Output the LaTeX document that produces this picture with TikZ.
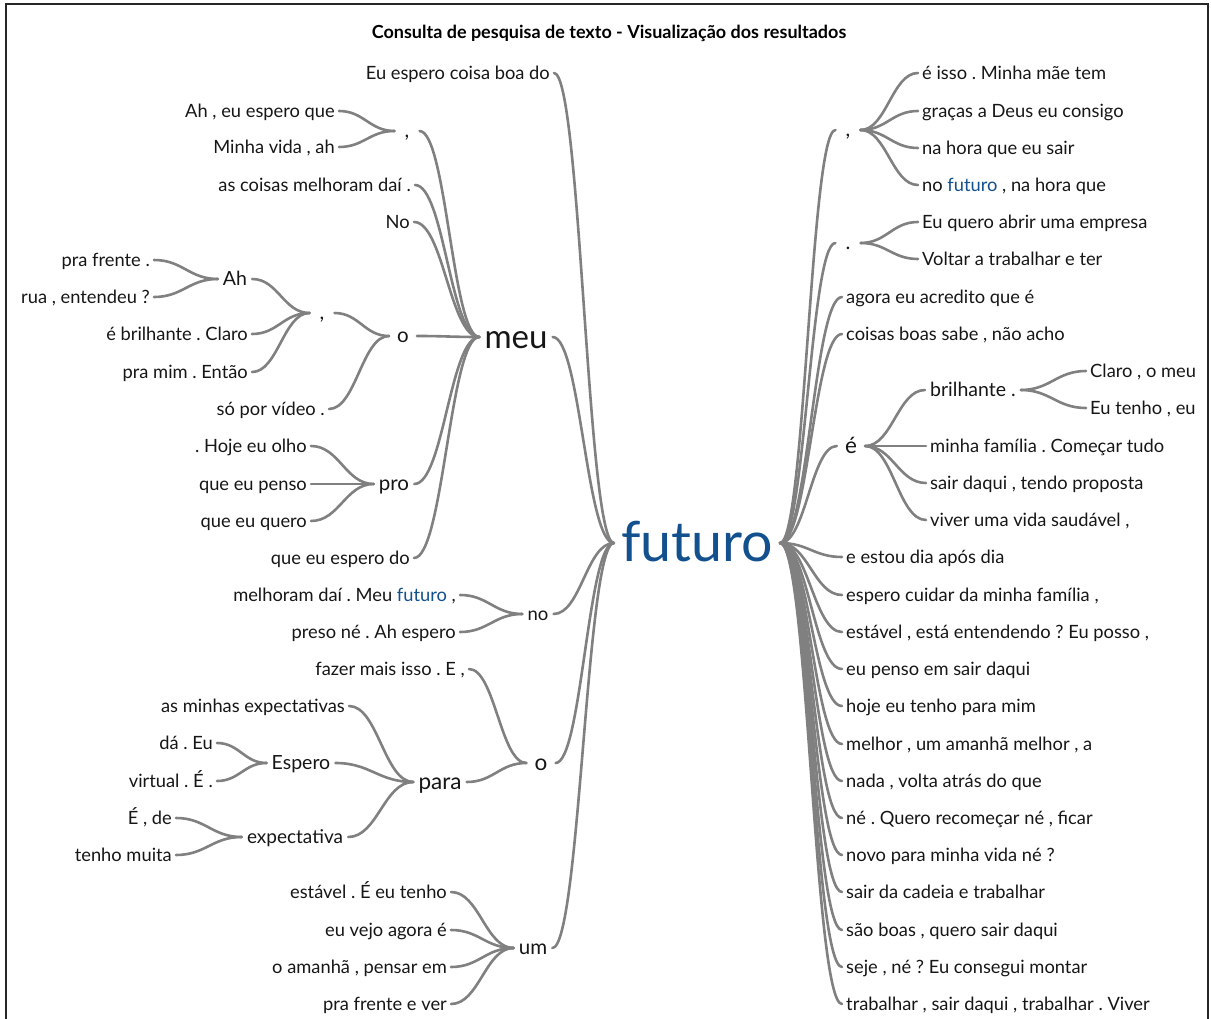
\documentclass[tikz,border=0pt]{standalone}
\usepackage{fontspec}
\setmainfont{Lato}
\usetikzlibrary{calc}
\definecolor{linkgray}{RGB}{128,128,128}
\definecolor{txt}{RGB}{22,22,22}
\definecolor{keyblue}{RGB}{18,80,142}
\frenchspacing
\begin{document}
\begin{tikzpicture}[x=1pt,y=-1pt,
  lf/.style={font=\fontsize{18.3}{21}\selectfont, text=txt, inner xsep=4pt, inner ysep=0pt,
             text height=13pt, text depth=0pt},
  hub/.style={/utils/exec={\pgfmathsetmacro\hubht{0.68*#1}},
             font=\fontsize{#1}{#1}\selectfont, text=txt, inner xsep=5pt, inner ysep=0pt,
             text height=\hubht pt, text depth=0pt},
  conn/.style={draw=linkgray, line width=2.6pt, line cap=round},
  sig/.style={to path={let \p1=(\tikztostart), \p2=(\tikztotarget), \n1={0.45*(\x2-\x1)} in
      .. controls +(\n1,0pt) and +(-\n1,0pt) .. (\tikztotarget) \tikztonodes}}
]
\useasboundingbox (0,0) rectangle (1211,1019);
% page frame
\draw[line width=2pt, black!85] (5.5,1019) -- (5.5,4.5) -- (1208,4.5) -- (1208,1019);

\node[font=\bfseries\fontsize{18}{21}\selectfont, text=black] (title) at (609,33)
  {Consulta de pesquisa de texto - Visualização dos resultados};

% keyword
\node[hub=55.5, text=keyblue, inner xsep=7pt] (fut) at (697,543) {futuro};

% ---------- left branch ----------
\node[lf, anchor=east] (l1) at (554,73) {Eu espero coisa boa do};
\node[lf, anchor=east] (l2) at (339,111) {Ah , eu espero que};
\node[lf, anchor=east] (l3) at (339,147) {Minha vida , ah};
\node[hub=20.5, inner xsep=10pt] (c1) at (407,131) {,};
\node[lf, anchor=east] (l4) at (415,185) {as coisas melhoram daí .};
\node[lf, anchor=east] (l5) at (414,222) {No};
\node[lf, anchor=east] (l6) at (154,260) {pra frente .};
\node[lf, anchor=east] (l7) at (154,297) {rua , entendeu ?};
\node[hub=19.5] (ah) at (235,279) {Ah};
\node[lf, anchor=east] (l8) at (252,334) {é brilhante . Claro};
\node[lf, anchor=east] (l9) at (252,372) {pra mim . Então};
\node[hub=20.5, inner xsep=10pt] (c2) at (322,313) {,};
\node[lf, anchor=east] (l10) at (329,409) {só por vídeo .};
\node[hub=20.5, inner xsep=8pt] (o1) at (403,336) {o};
\node[lf, anchor=east] (l11) at (311,446) {. Hoje eu olho};
\node[lf, anchor=east] (l12) at (311,484) {que eu penso};
\node[lf, anchor=east] (l13) at (311,521) {que eu quero};
\node[hub=20.5] (pro) at (394,484) {pro};
\node[hub=33] (meu) at (516,337) {meu};
\node[lf, anchor=east] (l14) at (414,558) {que eu espero do};
\node[lf, anchor=east] (l15) at (460,595) {melhoram daí . Meu \textcolor{keyblue}{futuro} ,};
\node[lf, anchor=east] (l16) at (460,632) {preso né . Ah espero};
\node[hub=18.5] (no) at (538,614) {no};
\node[lf, anchor=east] (l17) at (469,669) {fazer mais isso . E ,};
\node[lf, anchor=east] (l18) at (349,706) {as minhas expectativas};
\node[lf, anchor=east] (l19) at (217,743) {dá . Eu};
\node[lf, anchor=east] (l20) at (217,781) {virtual . É .};
\node[hub=19.5] (espero) at (301,763) {Espero};
\node[lf, anchor=east] (l21) at (176,818) {É , de};
\node[lf, anchor=east] (l22) at (176,855) {tenho muita};
\node[hub=19] (expect) at (295,837) {expectativa};
\node[hub=22.5] (para) at (440,782) {para};
\node[hub=22.5, inner xsep=8pt] (o2) at (541,763) {o};
\node[lf, anchor=east] (l23) at (451,892) {estável . É eu tenho};
\node[lf, anchor=east] (l24) at (451,930) {eu vejo agora é};
\node[lf, anchor=east] (l25) at (451,967) {o amanhã , pensar em};
\node[lf, anchor=east] (l26) at (451,1004) {pra frente e ver};
\node[hub=20.5] (um) at (533,948) {um};

\foreach \a/\b in {l1/fut, l2/c1, l3/c1, c1/meu, l4/meu, l5/meu, l6/ah, l7/ah,
                   ah/c2, l8/c2, l9/c2, c2/o1, l10/o1, o1/meu, l11/pro, l12/pro, l13/pro,
                   pro/meu, l14/meu, meu/fut, l15/no, l16/no, no/fut, l17/o2, l18/para,
                   l19/espero, l20/espero, espero/para, l21/expect, l22/expect, expect/para,
                   para/o2, o2/fut, l23/um, l24/um, l25/um, l26/um, um/fut}
  \draw[conn] (\a.east) to[sig] (\b.west);

% ---------- right branch ----------
\node[hub=20.5, inner xsep=10pt] (rc1) at (848,130) {,};
\node[lf, anchor=west] (r1) at (918,73) {é isso . Minha mãe tem};
\node[lf, anchor=west] (r2) at (918,111) {graças a Deus eu consigo};
\node[lf, anchor=west] (r3) at (918,148) {na hora que eu sair};
\node[lf, anchor=west] (r4) at (918,185) {no \textcolor{keyblue}{futuro} , na hora que};
\node[hub=20.5, inner xsep=10pt] (rc2) at (848,243) {.};
\node[lf, anchor=west] (r5) at (918,222) {Eu quero abrir uma empresa};
\node[lf, anchor=west] (r6) at (918,259) {Voltar a trabalhar e ter};
\node[lf, anchor=west] (r7) at (842,297) {agora eu acredito que é};
\node[lf, anchor=west] (r8) at (842,334) {coisas boas sabe , não acho};
\node[hub=22.5, inner xsep=8pt] (re) at (851,446) {é};
\node[hub=19.5, anchor=west] (bril) at (925,390) {brilhante .};
\node[lf, anchor=west] (r9) at (1086,371) {Claro , o meu};
\node[lf, anchor=west] (r10) at (1086,408) {Eu tenho , eu};
\node[lf, anchor=west] (r11) at (926,446) {minha família . Começar tudo};
\node[lf, anchor=west] (r12) at (926,483) {sair daqui , tendo proposta};
\node[lf, anchor=west] (r13) at (926,520) {viver uma vida saudável ,};
\node[lf, anchor=west] (r14) at (842,557) {e estou dia após dia};
\node[lf, anchor=west] (r15) at (842,595) {espero cuidar da minha família ,};
\node[lf, anchor=west] (r16) at (842,632) {estável , está entendendo ? Eu posso ,};
\node[lf, anchor=west] (r17) at (842,669) {eu penso em sair daqui};
\node[lf, anchor=west] (r18) at (842,706) {hoje eu tenho para mim};
\node[lf, anchor=west] (r19) at (842,744) {melhor , um amanhã melhor , a};
\node[lf, anchor=west] (r20) at (842,781) {nada , volta atrás do que};
\node[lf, anchor=west] (r21) at (842,818) {né . Quero recomeçar né , ficar};
\node[lf, anchor=west] (r22) at (842,855) {novo para minha vida né ?};
\node[lf, anchor=west] (r23) at (842,892) {sair da cadeia e trabalhar};
\node[lf, anchor=west] (r24) at (842,930) {são boas , quero sair daqui};
\node[lf, anchor=west] (r25) at (842,967) {seje , né ? Eu consegui montar};
\node[lf, anchor=west] (r26) at (842,1004) {trabalhar , sair daqui , trabalhar . Viver};

\foreach \a/\b in {fut/rc1, rc1/r1, rc1/r2, rc1/r3, rc1/r4, fut/rc2, rc2/r5, rc2/r6,
                   fut/r7, fut/r8, fut/re, re/bril, bril/r9, bril/r10, re/r11, re/r12, re/r13,
                   fut/r14, fut/r15, fut/r16, fut/r17, fut/r18, fut/r19, fut/r20, fut/r21,
                   fut/r22, fut/r23, fut/r24, fut/r25, fut/r26}
  \draw[conn] (\a.east) to[sig] (\b.west);
\end{tikzpicture}
\end{document}
